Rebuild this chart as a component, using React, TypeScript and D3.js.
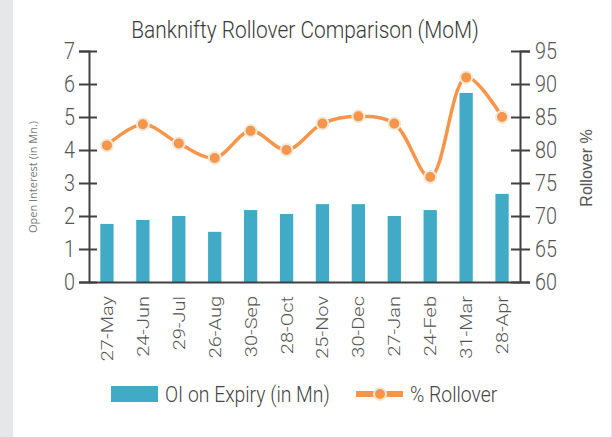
import * as d3 from "d3";
import React, { useEffect, useRef } from "react";

const categories = ["27-May", "24-Jun", "29-Jul", "26-Aug", "30-Sep", "28-Oct", "25-Nov", "30-Dec", "27-Jan", "24-Feb", "31-Mar", "28-Apr"];
const oiValues = [1.76, 1.88, 2.0, 1.52, 2.18, 2.06, 2.36, 2.36, 2.0, 2.18, 5.73, 2.67];
const rolloverValues = [80.7, 83.9, 81.0, 78.8, 82.9, 80.0, 84.0, 85.1, 84.0, 75.9, 91.0, 85.0];
const leftTicks = [0, 1, 2, 3, 4, 5, 6, 7];
const rightTicks = [60, 65, 70, 75, 80, 85, 90, 95];

const COND = "Roboto, sans-serif";
const BAR = "#41aac6";
const LINE = "#f7954a";
const AXIS = "#404040";

// condensed look: thin font squeezed horizontally
const squeeze = (sel: any, size: number, anchor: string) =>
  sel
    .style("font-family", COND)
    .style("font-weight", "300")
    .style("font-size", `${size}px`)
    .attr("text-anchor", anchor);

const RolloverChart = () => {
  const svgRef = useRef<SVGSVGElement>(null);

  useEffect(() => {
    const width = 612;
    const height = 437;
    const left = 89;
    const right = 520;
    const top = 51;
    const bottom = 282;
    const sx = 0.86;

    const svg = d3.select(svgRef.current).attr("width", width).attr("height", height);
    svg.selectAll("*").remove();

    // page background + grey strips
    svg.append("rect").attr("width", width).attr("height", height).attr("fill", "#fff");
    svg.append("rect").attr("width", 13).attr("height", height).attr("fill", "#e6e7e9");
    svg.append("rect").attr("x", 611).attr("width", 1).attr("height", height).attr("fill", "#e6e7e9");

    const x = d3.scaleBand<string>().domain(categories).range([left, right]);
    const yL = d3.scaleLinear().domain([0, 7]).range([bottom, top]);
    const yR = d3.scaleLinear().domain([60, 95]).range([bottom, top]);
    const barW = x.bandwidth() * 0.37;
    const cx = (d: string) => (x(d) ?? 0) + x.bandwidth() / 2;

    // title
    squeeze(
      svg
        .append("text")
        .text("Banknifty Rollover Comparison (MoM)")
        .attr("transform", `translate(305,38) scale(0.87,1)`),
      24,
      "middle"
    ).style("fill", "#3a3a3a");

    // bars
    svg
      .selectAll("rect.bar")
      .data(oiValues)
      .enter()
      .append("rect")
      .attr("class", "bar")
      .attr("x", (d, i) => cx(categories[i]) - barW / 2)
      .attr("y", (d) => yL(d))
      .attr("width", barW)
      .attr("height", (d) => bottom - yL(d))
      .attr("fill", BAR);

    // left axis
    const gL = svg
      .append("g")
      .attr("transform", `translate(${left},0)`)
      .call(d3.axisLeft(yL).tickValues(leftTicks).tickFormat(d3.format("d")).tickSize(10));
    gL.select(".domain").attr("stroke", AXIS).attr("stroke-width", 2);
    gL.selectAll(".tick line").attr("x1", 8).attr("stroke", AXIS).attr("stroke-width", 2);
    squeeze(gL.selectAll(".tick text").attr("x", null).attr("transform", `translate(-14,0) scale(${sx},1)`), 23, "end").style("fill", "#555");

    // right axis
    const gR = svg
      .append("g")
      .attr("transform", `translate(${right},0)`)
      .call(d3.axisRight(yR).tickValues(rightTicks).tickFormat(d3.format("d")).tickSize(10));
    gR.select(".domain").attr("stroke", AXIS).attr("stroke-width", 2);
    gR.selectAll(".tick line").attr("x1", -9).attr("stroke", AXIS).attr("stroke-width", 2);
    squeeze(gR.selectAll(".tick text").attr("x", null).attr("transform", `translate(15,0) scale(${sx},1)`), 23, "start").style("fill", "#555");

    // x axis
    const gX = svg
      .append("g")
      .attr("transform", `translate(0,${bottom})`)
      .call(d3.axisBottom(x).tickSize(0).tickPadding(0));
    gX.select(".domain").attr("stroke", AXIS).attr("stroke-width", 2);
    squeeze(
      gX.selectAll(".tick text")
        .attr("transform", `rotate(-90) scale(1,${sx})`)
        .attr("x", -14)
        .attr("y", 0)
        .attr("dy", "0.35em"),
      20,
      "end"
    ).style("fill", "#555");

    // line
    const line = d3
      .line<number>()
      .x((d, i) => cx(categories[i]))
      .y((d) => yR(d))
      .curve(d3.curveCatmullRom.alpha(0.5));
    svg
      .append("path")
      .datum(rolloverValues)
      .attr("d", line)
      .attr("fill", "none")
      .attr("stroke", LINE)
      .attr("stroke-width", 3.5);

    svg
      .selectAll("circle.pt")
      .data(rolloverValues)
      .enter()
      .append("circle")
      .attr("class", "pt")
      .attr("cx", (d, i) => cx(categories[i]))
      .attr("cy", (d) => yR(d))
      .attr("r", 6)
      .attr("fill", LINE)
      .attr("stroke", "#eeeadb")
      .attr("stroke-width", 2);

    // axis titles
    svg
      .append("text")
      .text("Open Interest (in Mn.)")
      .attr("transform", "translate(37,177) rotate(-90)")
      .attr("text-anchor", "middle")
      .style("font-family", "'Open Sans', sans-serif")
      .style("font-size", "11px")
      .style("fill", "#777");
    svg
      .append("text")
      .text("Rollover %")
      .attr("transform", "translate(592,168) rotate(-90)")
      .attr("text-anchor", "middle")
      .style("font-family", "'Liberation Sans', sans-serif")
      .style("font-size", "16px")
      .style("fill", "#555");

    // legend
    const legend = svg.append("g");
    legend.append("rect").attr("x", 111).attr("y", 386).attr("width", 47).attr("height", 16).attr("fill", BAR);
    squeeze(
      legend.append("text").text("OI on Expiry (in Mn)").attr("transform", `translate(165,394) scale(${sx},1)`).attr("dy", "0.35em"),
      22.5,
      "start"
    ).style("fill", "#444");
    legend
      .append("line")
      .attr("x1", 356)
      .attr("x2", 403)
      .attr("y1", 394)
      .attr("y2", 394)
      .attr("stroke", LINE)
      .attr("stroke-width", 6);
    legend
      .append("circle")
      .attr("cx", 380)
      .attr("cy", 394)
      .attr("r", 6)
      .attr("fill", LINE)
      .attr("stroke", "#eeeadb")
      .attr("stroke-width", 2);
    squeeze(
      legend.append("text").text("% Rollover").attr("transform", `translate(410,394) scale(${sx},1)`).attr("dy", "0.35em"),
      22.5,
      "start"
    ).style("fill", "#444");
  }, []);

  return <svg ref={svgRef} style={{ position: "absolute", left: 0, top: 0, display: "block" }}></svg>;
};

const App = () => <RolloverChart />;

export default App;
